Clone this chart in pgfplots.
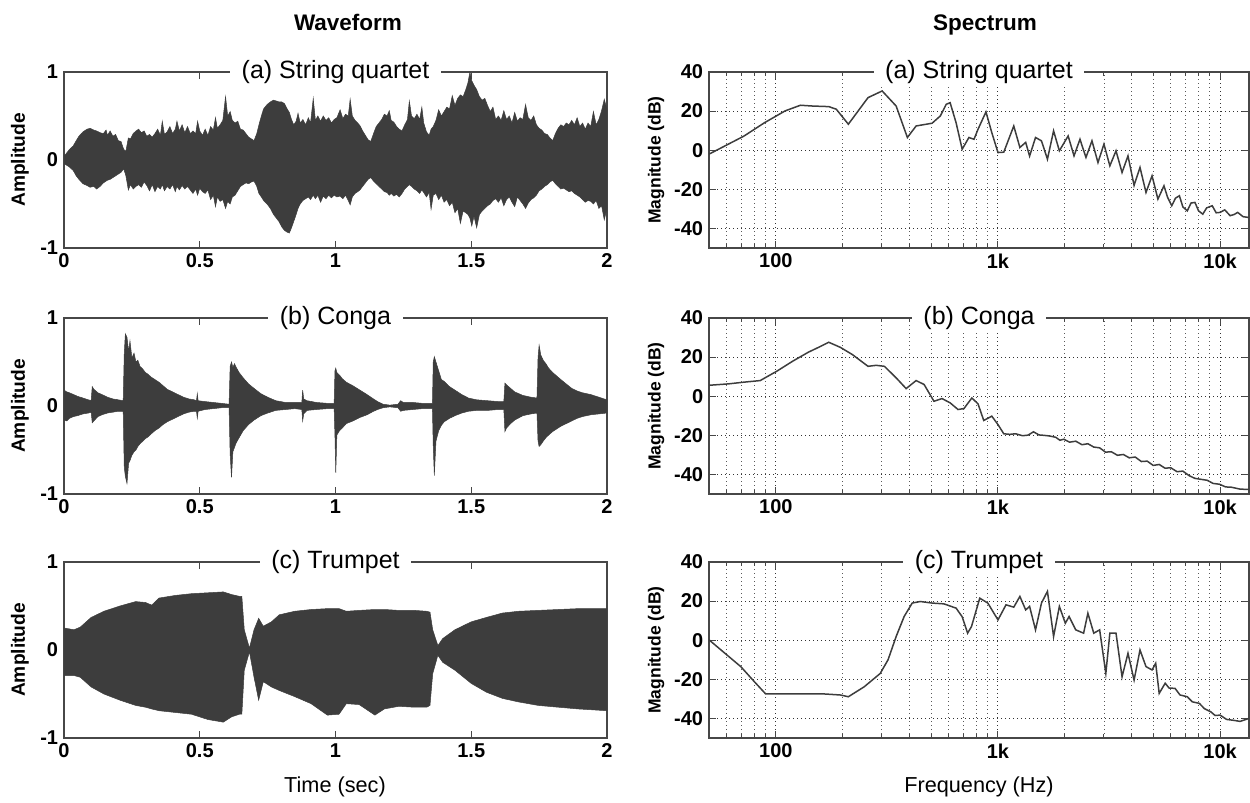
\documentclass[border=0pt]{standalone}
\usepackage{fontspec}
\setmainfont{Liberation Sans}
\usepackage{pgfplots}
\usepackage{pgfplotstable}
\pgfplotsset{compat=1.18}
\usepgfplotslibrary{fillbetween}

\definecolor{wave}{HTML}{3D3D3D}
\definecolor{frame}{HTML}{474747}

% ---- waveform envelopes (time, upper, lower) ----
\pgfplotstableread{
t hi lo
0.000 0.04 -0.04
0.010 0.08 -0.06
0.020 0.12 -0.08
0.034 0.16 -0.12
0.045 0.22 -0.18
0.055 0.27 -0.22
0.070 0.32 -0.27
0.085 0.35 -0.29
0.096 0.36 -0.31
0.110 0.34 -0.30
0.120 0.33 -0.33
0.133 0.31 -0.30
0.145 0.30 -0.26
0.155 0.34 -0.24
0.160 0.28 -0.23
0.170 0.33 -0.22
0.180 0.27 -0.20
0.190 0.29 -0.18
0.200 0.22 -0.16
0.210 0.21 -0.14
0.220 0.12 -0.10
0.228 0.10 -0.18
0.237 0.25 -0.34
0.245 0.24 -0.28
0.255 0.30 -0.33
0.265 0.33 -0.30
0.275 0.35 -0.28
0.285 0.31 -0.31
0.295 0.33 -0.25
0.305 0.27 -0.29
0.315 0.29 -0.35
0.325 0.26 -0.28
0.335 0.30 -0.36
0.345 0.35 -0.30
0.355 0.28 -0.33
0.362 0.44 -0.28
0.370 0.29 -0.35
0.380 0.32 -0.30
0.390 0.38 -0.33
0.400 0.30 -0.28
0.410 0.35 -0.36
0.416 0.44 -0.30
0.425 0.33 -0.34
0.435 0.40 -0.29
0.445 0.31 -0.33
0.455 0.38 -0.30
0.465 0.30 -0.34
0.475 0.33 -0.38
0.485 0.30 -0.33
0.492 0.44 -0.40
0.500 0.33 -0.32
0.510 0.28 -0.36
0.520 0.35 -0.38
0.530 0.28 -0.34
0.540 0.38 -0.45
0.550 0.34 -0.40
0.558 0.48 -0.53
0.565 0.36 -0.42
0.575 0.40 -0.47
0.585 0.45 -0.45
0.595 0.72 -0.55
0.603 0.50 -0.47
0.612 0.55 -0.50
0.620 0.45 -0.42
0.630 0.42 -0.40
0.640 0.44 -0.35
0.650 0.35 -0.30
0.660 0.34 -0.28
0.670 0.30 -0.26
0.680 0.26 -0.27
0.690 0.24 -0.25
0.700 0.22 -0.24
0.710 0.30 -0.30
0.718 0.40 -0.38
0.727 0.50 -0.42
0.735 0.58 -0.46
0.748 0.63 -0.50
0.760 0.66 -0.55
0.772 0.68 -0.62
0.782 0.67 -0.66
0.792 0.66 -0.70
0.802 0.66 -0.76
0.812 0.64 -0.80
0.822 0.58 -0.82
0.830 0.54 -0.83
0.838 0.46 -0.77
0.846 0.40 -0.70
0.855 0.44 -0.62
0.862 0.53 -0.55
0.870 0.42 -0.50
0.880 0.46 -0.46
0.890 0.40 -0.44
0.900 0.48 -0.42
0.908 0.42 -0.45
0.918 0.70 -0.40
0.926 0.45 -0.44
0.935 0.50 -0.40
0.945 0.44 -0.48
0.955 0.50 -0.41
0.965 0.45 -0.44
0.975 0.48 -0.40
0.985 0.42 -0.43
0.995 0.46 -0.40
1.005 0.48 -0.42
1.017 0.57 -0.41
1.027 0.47 -0.44
1.037 0.52 -0.40
1.047 0.50 -0.46
1.054 0.69 -0.51
1.062 0.50 -0.42
1.072 0.45 -0.38
1.082 0.42 -0.36
1.090 0.39 -0.34
1.100 0.33 -0.30
1.110 0.28 -0.26
1.120 0.23 -0.22
1.130 0.21 -0.20
1.140 0.30 -0.24
1.150 0.38 -0.27
1.160 0.42 -0.30
1.170 0.46 -0.33
1.180 0.52 -0.36
1.190 0.50 -0.37
1.198 0.56 -0.40
1.205 0.45 -0.38
1.215 0.43 -0.41
1.225 0.38 -0.39
1.235 0.35 -0.42
1.245 0.33 -0.38
1.255 0.40 -0.33
1.265 0.46 -0.30
1.272 0.67 -0.28
1.280 0.50 -0.30
1.290 0.47 -0.33
1.300 0.52 -0.35
1.310 0.46 -0.38
1.318 0.60 -0.34
1.325 0.42 -0.37
1.335 0.32 -0.42
1.345 0.28 -0.37
1.352 0.35 -0.56
1.360 0.38 -0.40
1.370 0.45 -0.38
1.380 0.57 -0.45
1.390 0.50 -0.40
1.400 0.55 -0.48
1.410 0.60 -0.45
1.420 0.58 -0.52
1.430 0.73 -0.48
1.440 0.62 -0.60
1.450 0.70 -0.55
1.460 0.74 -0.72
1.470 0.72 -0.58
1.480 0.80 -0.60
1.488 0.88 -0.62
1.495 1.00 -0.66
1.502 0.90 -0.75
1.510 0.85 -0.64
1.520 0.80 -0.77
1.530 0.72 -0.62
1.540 0.68 -0.58
1.550 0.70 -0.55
1.560 0.62 -0.52
1.570 0.55 -0.50
1.580 0.60 -0.46
1.590 0.46 -0.44
1.600 0.50 -0.48
1.610 0.45 -0.43
1.620 0.56 -0.52
1.630 0.46 -0.45
1.640 0.50 -0.42
1.650 0.42 -0.48
1.660 0.54 -0.53
1.670 0.44 -0.42
1.680 0.48 -0.46
1.690 0.46 -0.50
1.700 0.63 -0.55
1.710 0.48 -0.49
1.720 0.45 -0.45
1.730 0.50 -0.43
1.740 0.40 -0.40
1.750 0.36 -0.35
1.760 0.34 -0.33
1.770 0.30 -0.30
1.780 0.29 -0.28
1.790 0.25 -0.25
1.800 0.22 -0.23
1.810 0.30 -0.27
1.820 0.36 -0.30
1.830 0.40 -0.33
1.840 0.38 -0.32
1.850 0.42 -0.34
1.860 0.40 -0.36
1.870 0.45 -0.35
1.880 0.40 -0.38
1.890 0.48 -0.40
1.900 0.38 -0.42
1.910 0.42 -0.45
1.920 0.35 -0.48
1.930 0.42 -0.46
1.940 0.38 -0.47
1.950 0.55 -0.50
1.960 0.40 -0.46
1.970 0.46 -0.55
1.980 0.56 -0.52
1.990 0.69 -0.68
2.000 0.57 -0.55
}\quartetwave

\pgfplotstableread{
t hi lo
0.000 0.18 -0.16
0.010 0.16 -0.17
0.020 0.15 -0.14
0.035 0.13 -0.12
0.050 0.11 -0.11
0.070 0.09 -0.09
0.090 0.07 -0.08
0.100 0.06 -0.07
0.104 0.22 -0.19
0.110 0.19 -0.17
0.125 0.15 -0.12
0.140 0.13 -0.10
0.160 0.10 -0.08
0.180 0.08 -0.07
0.200 0.07 -0.06
0.218 0.06 -0.06
0.222 0.60 -0.70
0.226 0.82 -0.80
0.232 0.78 -0.88
0.238 0.62 -0.65
0.243 0.74 -0.62
0.250 0.55 -0.56
0.258 0.60 -0.52
0.265 0.50 -0.50
0.272 0.52 -0.46
0.280 0.45 -0.43
0.290 0.42 -0.40
0.300 0.38 -0.37
0.310 0.36 -0.35
0.320 0.33 -0.32
0.335 0.30 -0.28
0.350 0.27 -0.25
0.365 0.23 -0.21
0.380 0.19 -0.18
0.400 0.16 -0.15
0.420 0.13 -0.12
0.440 0.10 -0.09
0.460 0.08 -0.07
0.480 0.07 -0.06
0.488 0.06 -0.06
0.491 0.14 -0.14
0.494 0.06 -0.06
0.520 0.05 -0.04
0.550 0.04 -0.03
0.580 0.03 -0.02
0.608 0.02 -0.02
0.612 0.45 -0.55
0.617 0.50 -0.81
0.622 0.44 -0.52
0.628 0.48 -0.47
0.634 0.44 -0.42
0.645 0.38 -0.36
0.660 0.32 -0.28
0.680 0.25 -0.21
0.700 0.20 -0.16
0.725 0.14 -0.11
0.750 0.10 -0.08
0.780 0.06 -0.05
0.816 0.04 -0.04
0.850 0.04 -0.03
0.876 0.04 -0.04
0.879 0.18 -0.17
0.883 0.08 -0.09
0.895 0.06 -0.05
0.930 0.04 -0.04
0.970 0.03 -0.03
0.995 0.03 -0.03
0.998 0.40 -0.34
1.001 0.43 -0.76
1.005 0.38 -0.33
1.015 0.35 -0.28
1.025 0.31 -0.25
1.040 0.27 -0.20
1.064 0.23 -0.17
1.090 0.18 -0.13
1.116 0.13 -0.10
1.140 0.08 -0.06
1.155 0.05 -0.04
1.175 0.02 -0.02
1.200 0.01 -0.01
1.230 0.02 -0.02
1.240 0.06 -0.06
1.250 0.04 -0.05
1.285 0.04 -0.04
1.320 0.03 -0.03
1.357 0.03 -0.03
1.360 0.50 -0.45
1.364 0.56 -0.79
1.370 0.50 -0.40
1.380 0.40 -0.28
1.390 0.30 -0.22
1.400 0.28 -0.18
1.420 0.22 -0.14
1.440 0.18 -0.11
1.465 0.13 -0.08
1.490 0.09 -0.06
1.520 0.07 -0.05
1.560 0.06 -0.05
1.600 0.05 -0.04
1.620 0.05 -0.04
1.624 0.26 -0.29
1.630 0.24 -0.25
1.645 0.20 -0.20
1.660 0.16 -0.16
1.690 0.12 -0.11
1.720 0.10 -0.09
1.742 0.09 -0.08
1.746 0.55 -0.40
1.750 0.69 -0.46
1.756 0.58 -0.44
1.765 0.52 -0.40
1.775 0.48 -0.36
1.785 0.43 -0.33
1.800 0.38 -0.29
1.815 0.34 -0.26
1.830 0.30 -0.23
1.850 0.25 -0.20
1.870 0.20 -0.17
1.890 0.17 -0.14
1.910 0.15 -0.12
1.940 0.13 -0.10
1.970 0.10 -0.09
2.000 0.07 -0.08
}\congawave

\pgfplotstableread{
t hi lo
0.000 0.25 -0.29
0.037 0.23 -0.29
0.060 0.26 -0.31
0.100 0.37 -0.42
0.147 0.44 -0.50
0.206 0.50 -0.57
0.264 0.55 -0.63
0.300 0.54 -0.65
0.323 0.51 -0.67
0.350 0.59 -0.69
0.410 0.62 -0.71
0.470 0.64 -0.73
0.530 0.65 -0.79
0.587 0.66 -0.82
0.617 0.63 -0.76
0.646 0.61 -0.73
0.655 0.61 -0.73
0.664 0.23 -0.23
0.683 0.02 -0.02
0.700 0.23 -0.31
0.717 0.36 -0.57
0.734 0.27 -0.36
0.764 0.32 -0.42
0.793 0.40 -0.46
0.850 0.44 -0.53
0.910 0.46 -0.61
0.970 0.47 -0.74
1.013 0.47 -0.73
1.040 0.44 -0.61
1.087 0.45 -0.62
1.145 0.46 -0.74
1.180 0.46 -0.67
1.233 0.45 -0.64
1.290 0.45 -0.65
1.336 0.44 -0.65
1.348 0.43 -0.63
1.358 0.23 -0.27
1.377 0.05 -0.06
1.395 0.13 -0.14
1.440 0.23 -0.23
1.500 0.32 -0.38
1.556 0.37 -0.48
1.615 0.42 -0.55
1.674 0.44 -0.59
1.747 0.45 -0.63
1.820 0.46 -0.65
1.894 0.47 -0.67
2.000 0.47 -0.69
}\trumpetwave

% ---- magnitude spectra (frequency in Hz, dB) ----
\pgfplotstableread{
f db
50 -2
59 2.2
72 7.3
89 14.1
110 20.1
129 23
146 22.6
173 22.3
187 21
212 13.3
260 26.9
301 30.3
348 22.6
391 6.5
428 12.4
505 13.8
550 17.5
585 23.5
609 24.3
648 14
690 0.5
740 6.5
780 5.6
813 10.7
883 19.6
938 9
1000 -1.2
1062 -1
1178 12.4
1255 1.4
1333 4
1388 -3
1476 6.5
1570 4.8
1670 -4.6
1780 9.9
1890 -0.3
2070 7.3
2200 -2.9
2340 5.6
2490 -3.7
2650 4.8
2820 -6.3
3000 3.1
3190 -8
3400 -0.3
3620 -11.4
3850 -2.9
4100 -18
4360 -8.8
4640 -21.6
4940 -13.1
5250 -25
5590 -18.2
5800 -24
6060 -28.4
6300 -24.5
6560 -23.3
6800 -29
7120 -31
7400 -27
7710 -26.7
8000 -31
8360 -32.7
8700 -29.5
9220 -28.4
9600 -32
10000 -31.8
10500 -30.5
11100 -33.5
11600 -32.8
12000 -31.8
12700 -34
13500 -34.4
}\quartetspec

\pgfplotstableread{
f db
50 5.6
61 6.3
72 7.2
85 8
101 12.8
119 17.9
140 22.5
159 25.5
173 27.6
195 25
221 21.3
260 15.3
283 15.8
308 15.3
348 9.4
386 3.9
428 8
465 6
515 -2.6
560 -1.2
609 -3.4
661 -6.8
703 -6.3
763 -0.9
813 -3.9
863 -12.4
938 -10.2
1000 -14.5
1062 -19.2
1130 -19.5
1200 -19.2
1290 -20.2
1366 -19.9
1445 -18.2
1530 -19.8
1608 -20
1700 -20.3
1820 -21
1900 -22.5
1980 -22
2100 -23.5
2240 -23
2390 -24.8
2540 -24.3
2700 -26
2870 -26.4
3050 -28.6
3240 -28.4
3450 -30.2
3670 -29.8
3900 -31.5
4150 -31.1
4420 -33.4
4700 -33.2
5000 -35.4
5320 -34.9
5650 -36.8
6000 -36.6
6400 -38.6
6800 -38.3
7250 -40.6
7700 -42
8200 -42.5
8760 -43
9300 -44.6
9930 -45
10600 -46.4
11200 -46.5
12300 -47.5
13500 -47.7
}\congaspec

\pgfplotstableread{
f db
50 0.2
59 -6.7
69.5 -13.5
80 -21.2
90 -27.5
110 -27.5
166 -27.5
195 -28
212 -28.9
250 -23.8
295 -17
320 -10
348 1.9
378 12.1
411 19
447 19.8
505 19
571 18.6
648 16.4
690 12
730 3.6
760 7
828 21.5
900 19
1000 10.4
1087 18.1
1178 16.9
1255 22.4
1333 15.5
1388 17.3
1476 5.3
1570 19
1670 25
1780 1.9
1890 17.3
2010 8.7
2090 12.1
2240 5.3
2430 3.6
2540 13.8
2700 3.6
2870 5.3
3060 -17
3190 3.6
3400 3.6
3620 -18.7
3850 -6.7
4100 -20.4
4360 -5
4640 -13.5
4940 -15.2
5130 -11.8
5320 -27.2
5660 -22
5900 -24.5
6270 -24.6
6600 -28
7120 -28.9
7500 -31.5
8070 -32.3
8500 -35
9080 -36.6
9500 -38.5
10000 -38.3
10700 -40.5
11400 -40.9
12300 -41.5
13500 -40
}\trumpetspec

\pgfplotsset{
  panel/.style={
    scale only axis,
    axis line style={frame, line width=1pt},
    tick style={frame, line width=0.6pt},
    tick align=inside,
    major tick length=4pt,
    minor tick length=2.5pt,
    tick label style={font=\fontsize{12}{12}\selectfont\bfseries},
    anchor=south west,
  },
  wavepanel/.style={
    panel,
    width=325.8pt, height=105.6pt,
    xmin=0, xmax=2, ymin=-1, ymax=1,
    xtick={0,0.5,1,1.5,2}, xticklabels={0,0.5,1,1.5,2},
    ytick={-1,0,1}, yticklabels={-1,0,1},
    ylabel={Amplitude},
    ylabel style={font=\fontsize{11.5}{12}\selectfont\bfseries, anchor=center,
      at={(axis description cs:-0.081,0.5)}},
  },
  specpanel/.style={
    panel,
    width=324pt, height=105.6pt,
    xmin=50, xmax=13500, ymin=-50, ymax=40,
    xtick={100,1000,10000}, xticklabels={100,1k,10k},
    minor xtick={60,70,80,90,200,300,400,500,600,700,800,900,2000,3000,4000,5000,6000,7000,8000,9000},
    ytick={-40,-20,0,20,40}, yticklabels={-40,-20,0,20,40},
    grid=both,
    major grid style={dotted, black!80, line width=0.6pt},
    minor grid style={dotted, black!65, line width=0.5pt},
    ylabel={Magnitude (dB)},
    ylabel style={font=\fontsize{10.5}{12}\selectfont\bfseries, anchor=center,
      at={(axis description cs:-0.098,0.5)}},
  },
  wavefill/.style={fill=wave, draw=none},
  envelope/.style={draw=wave, line width=0.3pt},
  specline/.style={draw=wave, line width=0.9pt},
}
\tikzset{
  ptitle/.style={fill=white, inner xsep=7pt, inner ysep=1pt, font=\fontsize{15}{17}\selectfont},
}

\begin{document}
\begin{tikzpicture}
\path (0,0) rectangle (750pt,480pt);

% waveforms
\begin{axis}[wavepanel, name=wa, at={(38.4pt,331.2pt)}]
\addplot[envelope, name path=ahi] table[x=t, y=hi]{\quartetwave};
\addplot[envelope, name path=alo] table[x=t, y=lo]{\quartetwave};
\addplot[wavefill] fill between[of=ahi and alo];
\end{axis}

\begin{axis}[wavepanel, name=wb, at={(38.4pt,183.6pt)}]
\addplot[envelope, name path=bhi] table[x=t, y=hi]{\congawave};
\addplot[envelope, name path=blo] table[x=t, y=lo]{\congawave};
\addplot[wavefill] fill between[of=bhi and blo];
\end{axis}

\begin{axis}[wavepanel, name=wc, at={(38.4pt,37.2pt)}]
\addplot[envelope, name path=chi] table[x=t, y=hi]{\trumpetwave};
\addplot[envelope, name path=clo] table[x=t, y=lo]{\trumpetwave};
\addplot[wavefill] fill between[of=chi and clo];
\end{axis}

% spectra
\begin{semilogxaxis}[specpanel, name=sa, at={(425.4pt,331.2pt)}]
\addplot[specline] table[x=f, y=db]{\quartetspec};
\end{semilogxaxis}

\begin{semilogxaxis}[specpanel, name=sb, at={(425.4pt,183.6pt)}]
\addplot[specline] table[x=f, y=db]{\congaspec};
\end{semilogxaxis}

\begin{semilogxaxis}[specpanel, name=sc, at={(425.4pt,37.2pt)}]
\addplot[specline] table[x=f, y=db]{\trumpetspec};
\end{semilogxaxis}

% panel titles sitting on the top frame
\node[ptitle] at (wa.north) {(a) String quartet};
\node[ptitle] at (wb.north) {(b) Conga};
\node[ptitle] at (wc.north) {(c) Trumpet};
\node[ptitle] at (sa.north) {(a) String quartet};
\node[ptitle] at (sb.north) {(b) Conga};
\node[ptitle] at (sc.north) {(c) Trumpet};

% column headers and shared x labels
\node[anchor=base, font=\fontsize{13.5}{16}\selectfont\bfseries] at (208.8pt,461.4pt) {Waveform};
\node[anchor=base, font=\fontsize{13.5}{16}\selectfont\bfseries] at (591pt,461.4pt) {Spectrum};
\node[font=\fontsize{13}{15}\selectfont] at (201pt,7.8pt) {Time (sec)};
\node[font=\fontsize{13}{15}\selectfont] at (587.4pt,7.8pt) {Frequency (Hz)};
\end{tikzpicture}
\end{document}
